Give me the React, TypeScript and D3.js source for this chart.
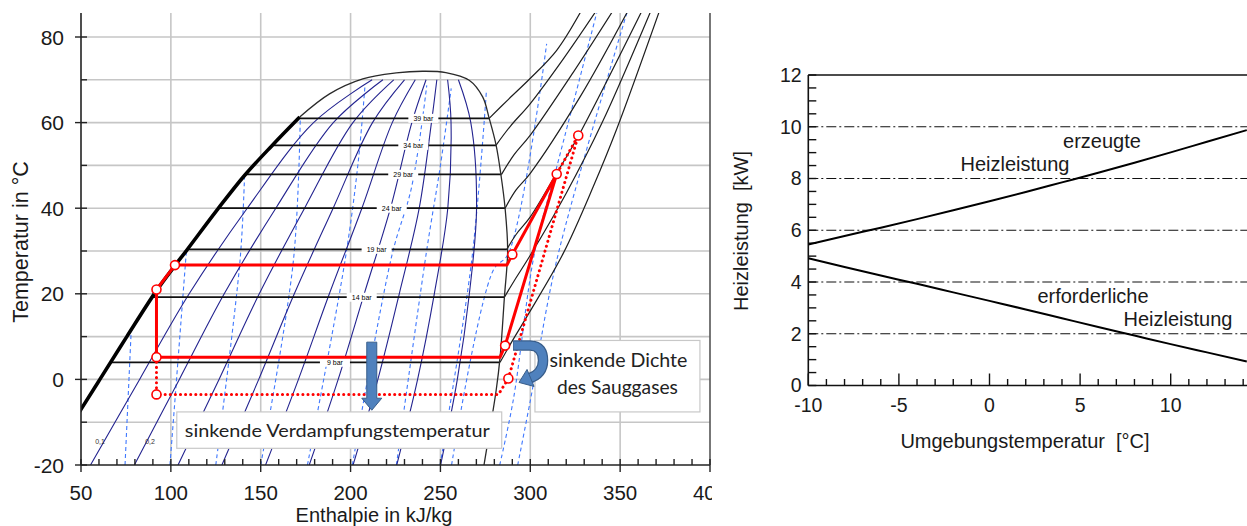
import React from 'react';
import * as d3 from 'd3';

// ================= LEFT CHART (T-h diagram) =================
const hTicks = [50, 100, 150, 200, 250, 300, 350, 400];
const tTicks = [-20, 0, 20, 40, 60, 80];
const tGrid = [-10, 0, 10, 20, 30, 40, 50, 60, 70, 80];
const hGrid = [100, 150, 200, 250, 300, 350];

// saturated liquid line (thick part)
const liqH = [31, 45.5, 50, 60.5, 75.5, 92.1, 102.3, 108.7, 126.3, 141.1, 156, 171.7];
const liqT = [-20, -10, -7, 0, 10, 20.8, 26.6, 30.1, 39.9, 47.7, 54.5, 61.3];
// dome top + saturated vapour line (thin part)
const domeH = [171.7, 188.3, 206.8, 225.4, 240, 253, 266, 273.5, 277.2, 281, 283.7, 286, 287.4, 285.6, 283.2, 281, 274.4, 273.5];
const domeT = [61.3, 66.7, 70.2, 71.6, 72, 71.7, 69.9, 66, 60.9, 54.7, 47.7, 39.9, 30.1, 19.2, 5.2, -2.6, -19.6, -22];

// lines of constant vapour quality (navy)
const qualT = [-20, 0, 20, 40, 60, 70];
const qual01 = [55.3, 82.6, 110.2, 142.5, 179.4, 212];
const qual02 = [79.7, 104.7, 129.7, 158.4, 190.4, 218];
const qual03 = [104, 126.8, 149.2, 174.4, 201.3, 224];
const qual04 = [128.4, 148.9, 168.7, 190.3, 212.2, 230];
const qual05 = [152.7, 171, 188.2, 206.3, 223.2, 236];
const qual06 = [177, 193.1, 207.6, 222.2, 234.1, 242];
const qual07 = [201.4, 215.2, 227.1, 238.2, 245, 248];
const qual08 = [225.7, 237.3, 246.6, 254.1, 255.9, 254];
const qual09 = [250.1, 259.4, 266.1, 270.1, 266.9, 260];
const qualLabels = ['0,1', '0,2'];
const qualLabelH = [60.6, 88.4];
const qualLabelT = -14.6;

// isobars inside the dome
const pLabels = ['39 bar', '34 bar', '29 bar', '24 bar', '19 bar', '14 bar', '9 bar'];
const pSatT = [61, 54.7, 47.9, 40, 30.4, 19.2, 4];
const pLiqH = [171.9, 156.3, 141.3, 126.4, 109, 90, 67];
const pVapH = [277.1, 280.9, 284, 286, 287, 285.6, 283.2];
const pLabelH = [240.5, 234.9, 229.3, 222.9, 214.5, 206.2, 191.3];

// isobars in the superheated region
const sh39H = [277.1, 288, 299.9, 314.7, 328.2];
const sh39T = [61, 65.5, 70.3, 76.9, 86];
const sh34H = [280.9, 289, 299.9, 318.4, 336.5];
const sh34T = [54.7, 59.2, 64.4, 74.9, 86];
const sh29H = [284, 291, 299.9, 324, 345.8];
const sh29T = [47.9, 52.5, 57, 71.8, 86];
const sh24H = [286, 292, 299.9, 327.7, 354.2];
const sh24T = [40, 44.2, 48.1, 66, 86];
const sh19H = [287, 292, 299.9, 314.7, 326.7, 362];
const sh19T = [30.4, 33.8, 37.9, 48.2, 56.8, 86];
const sh14H = [285.6, 291, 300, 320, 340, 367];
const sh14T = [19.2, 23, 29, 43.5, 60, 86];
const sh9H = [283.2, 290, 300, 318.4, 335, 348.1, 371.8];
const sh9T = [4, 9, 16, 29.5, 45, 58.5, 86];

// blue dashed lines (inside dome)
const dsh1H = [74.5, 78];
const dsh1T = [-20, 12];
const dsh2H = [99.5, 108.7];
const dsh2T = [-20, 30.3];
const dsh3H = [125, 138.5, 141];
const dsh3T = [-20, 27.8, 47.5];
const dsh4H = [150, 168.2, 172];
const dsh4T = [-20, 27.8, 61];
const dsh5H = [176, 197, 204.3, 208];
const dsh5T = [-20, 28, 51, 68.5];
const dsh6H = [201, 223, 234, 242.4];
const dsh6T = [-20, 29, 45, 68.7];
const dsh7H = [225.5, 242.3, 250, 256];
const dsh7T = [-20, 30, 50, 68];
const dsh8H = [249.8, 267.4, 275.6];
const dsh8T = [-20, 27.8, 67.5];
// blue dashed lines crossing into the superheated region
const dsh9H = [256.2, 279.4, 287.8, 309.1];
const dsh9T = [-20, 25.5, 29.4, 78.4];
const dsh10H = [283, 290.5, 302.6, 314.7, 337.2];
const dsh10T = [-20, -4.9, 30.1, 49.6, 86];
const dsh11H = [293, 300, 314.7, 354];
const dsh11T = [-20, -5, 27.8, 86];

// heat-pump cycles
const cycSolidH = [286, 314.7, 290, 287, 102.3, 92, 92, 283.2, 286];
const cycSolidT = [7.9, 48, 29.2, 26.7, 26.7, 21, 5.2, 5.2, 7.9];
const cycDotH = [92, 92, 282.3, 287.8, 326.7, 314.7];
const cycDotT = [5.2, -3.5, -3.5, 0.2, 57, 48];
const markH = [92, 102.3, 92, 92, 290, 314.7, 286, 287.8, 326.7];
const markT = [21, 26.7, 5.2, -3.5, 29.2, 48, 7.9, 0.2, 57];

// ================= RIGHT CHART =================
const ambT = [-10, -8, -6, -4, -2, 0, 2, 4, 6, 8, 10, 12, 14.2];
const erzeugt = [5.45, 5.78, 6.1, 6.43, 6.77, 7.12, 7.48, 7.85, 8.22, 8.61, 9.01, 9.42, 9.87];
const erforderlich = [4.92, 4.58, 4.25, 3.93, 3.6, 3.27, 2.94, 2.6, 2.26, 1.93, 1.6, 1.28, 0.93];
const rxTicks = [-10, -5, 0, 5, 10];
const ryTicks = [0, 2, 4, 6, 8, 10, 12];
const ryGrid = [2, 4, 6, 8, 10];

const NAVY = '#23238f';
const LBLUE = '#3f78ff';
const RED = '#ff0000';
const ARROW = '#4f81bd';
const ARROW_DK = '#385d8a';

export default function App() {
  const xL = d3.scaleLinear().domain([50, 400]).range([81, 710]);
  const yL = d3.scaleLinear().domain([-20, 80]).range([465, 37]);
  const topY = 13;

  const mk = (H: number[], T: number[], curve: any = d3.curveCatmullRom.alpha(0.5)) =>
    d3.line().curve(curve)(H.map((h, i) => [xL(h), yL(T[i])] as [number, number])) || '';
  const lin = (H: number[], T: number[]) => mk(H, T, d3.curveLinear);

  const quals = [qual01, qual02, qual03, qual04, qual05, qual06, qual07, qual08, qual09];
  const dashes: [number[], number[]][] = [
    [dsh1H, dsh1T], [dsh2H, dsh2T], [dsh3H, dsh3T], [dsh4H, dsh4T], [dsh5H, dsh5T],
    [dsh6H, dsh6T], [dsh7H, dsh7T], [dsh8H, dsh8T], [dsh9H, dsh9T], [dsh10H, dsh10T], [dsh11H, dsh11T],
  ];
  const supers: [number[], number[]][] = [
    [sh39H, sh39T], [sh34H, sh34T], [sh29H, sh29T], [sh24H, sh24T], [sh19H, sh19T], [sh14H, sh14T], [sh9H, sh9T],
  ];

  const hMinor = d3.range(50, 401, 10);
  const tMinor = d3.range(-20, 81, 10);

  // right chart scales
  const xR = d3.scaleLinear().domain([-10, 10]).range([808.3, 1170.7]);
  const yR = d3.scaleLinear().domain([0, 12]).range([385.5, 75]);
  const lineR = (Y: number[]) =>
    d3.line().curve(d3.curveMonotoneX)(ambT.map((t, i) => [xR(t), yR(Y[i])] as [number, number])) || '';
  const rxMinor = d3.range(-10, 15, 1);
  const ryMinor = d3.range(0, 12.01, 0.5);
  const rLeft = xR(-10);
  const rRight = 1247;

  // annotation anchors (data units of left chart)
  const box1 = { x0: xL(103.3), x1: xL(284.1), y0: yL(-7.6), y1: yL(-16.1) };
  const box2 = { x0: xL(302.6), x1: xL(394.4), y0: yL(9.1), y1: yL(-7.6) };
  const ax = xL(211.8), aTop = yL(8.7), aHead = yL(-4.4), aTip = yL(-7.2);
  const ux = xL(290.4), uy = yL(9.1);

  const sansCal = "Lato, 'Open Sans', sans-serif";

  return (
    <svg width={1247} height={526} style={{ position: 'absolute', left: 0, top: 0, background: '#fff' }}
      fontFamily="'Liberation Sans', Arial, sans-serif">
      <defs>
        <clipPath id="plotL"><rect x={81} y={topY} width={629} height={465 - topY} /></clipPath>
        <clipPath id="panelL"><rect x={0} y={0} width={712} height={526} /></clipPath>
        <clipPath id="plotR"><rect x={rLeft} y={70} width={rRight - rLeft} height={320} /></clipPath>
      </defs>

      {/* ---------------- LEFT PANEL ---------------- */}
      <g clipPath="url(#panelL)">
        {/* grid */}
        {tGrid.map((t) => (
          <line key={'tg' + t} x1={81} x2={710} y1={yL(t)} y2={yL(t)} stroke="#c6c6c6" strokeWidth={1.6} />
        ))}
        {hGrid.map((h) => (
          <line key={'hg' + h} x1={xL(h)} x2={xL(h)} y1={topY} y2={465} stroke="#c6c6c6" strokeWidth={1.6} />
        ))}

        <g clipPath="url(#plotL)">
          {/* blue dashed lines */}
          {dashes.map(([H, T], i) => (
            <path key={'d' + i} d={mk(H, T)} fill="none" stroke={LBLUE} strokeWidth={1.1} strokeDasharray="4 3" />
          ))}
          {/* quality lines */}
          {quals.map((Q, i) => (
            <path key={'q' + i} d={mk(Q, qualT)} fill="none" stroke={NAVY} strokeWidth={1.1} />
          ))}
          {/* superheated isobars */}
          {supers.map(([H, T], i) => (
            <path key={'s' + i} d={mk(H, T)} fill="none" stroke="#1e1e1e" strokeWidth={1.2} />
          ))}
          {/* isobars in two-phase region */}
          {pLabels.map((lab, i) => (
            <line key={'p' + i} x1={xL(pLiqH[i])} x2={xL(pVapH[i])} y1={yL(pSatT[i])} y2={yL(pSatT[i])}
              stroke="#111" strokeWidth={1.8} />
          ))}
          {/* saturation lines */}
          <path d={mk(domeH, domeT)} fill="none" stroke="#2a2a2a" strokeWidth={1.3} />
          <path d={mk(liqH, liqT)} fill="none" stroke="#000" strokeWidth={3.6} />
          {/* isobar labels */}
          {pLabels.map((lab, i) => (
            <g key={'pl' + i}>
              <rect x={xL(pLabelH[i]) - 15} y={yL(pSatT[i]) - 4.5} width={30} height={9} fill="#fff" />
              <text x={xL(pLabelH[i])} y={yL(pSatT[i]) + 2.5} fontSize={7} textAnchor="middle" fill="#000">{lab}</text>
            </g>
          ))}
          {qualLabels.map((lab, i) => (
            <text key={'ql' + i} x={xL(qualLabelH[i])} y={yL(qualLabelT) + 2} fontSize={7} textAnchor="middle"
              fill="#333">{lab}</text>
          ))}

          {/* cycles */}
          <path d={lin(cycDotH, cycDotT)} fill="none" stroke={RED} strokeWidth={3} strokeDasharray="0.1 5"
            strokeLinecap="round" />
          <path d={lin(cycSolidH, cycSolidT)} fill="none" stroke={RED} strokeWidth={3} strokeLinejoin="round" />
          {markH.map((h, i) => (
            <circle key={'m' + i} cx={xL(h)} cy={yL(markT[i])} r={4.5} fill="#fff" stroke={RED} strokeWidth={1.6} />
          ))}
        </g>

        {/* axes */}
        <line x1={81} x2={81} y1={topY} y2={465} stroke="#222" strokeWidth={1.6} />
        <line x1={81} x2={710} y1={465} y2={465} stroke="#222" strokeWidth={1.6} />
        <line x1={710} x2={710} y1={topY} y2={465} stroke="#555" strokeWidth={1.6} />
        {tMinor.map((t) => (
          <line key={'tt' + t} x1={tTicks.includes(t) ? 75 : 81} x2={87} y1={yL(t)} y2={yL(t)} stroke="#222" strokeWidth={1.4} />
        ))}
        {hMinor.map((h) => (
          <line key={'ht' + h} x1={xL(h)} x2={xL(h)} y1={459} y2={hTicks.includes(h) ? 472 : 465} stroke="#222" strokeWidth={1.4} />
        ))}
        {tTicks.map((t) => (
          <text key={'tl' + t} x={64} y={yL(t) + 7.5} fontSize={21} textAnchor="end" fill="#1a1a1a">{t}</text>
        ))}
        {hTicks.map((h) => (
          <text key={'hl' + h} x={xL(h)} y={500} fontSize={20.5} textAnchor="middle" fill="#1a1a1a">{h}</text>
        ))}
        <text x={374} y={522} fontSize={20} textAnchor="middle" fill="#1a1a1a">Enthalpie in kJ/kg</text>
        <text transform={`translate(28,242) rotate(-90)`} fontSize={21.5} textAnchor="middle" fill="#1a1a1a">
          Temperatur in °C
        </text>

        {/* annotation: sinkende Verdampfungstemperatur */}
        <rect x={box1.x0} y={box1.y0} width={box1.x1 - box1.x0} height={box1.y1 - box1.y0} fill="#fff"
          stroke="#c8c8c8" strokeWidth={1.2} />
        <text x={box1.x0 + 8} y={box1.y0 + 25} fontSize={18} fontFamily={sansCal} fill="#222"
          textLength={305} lengthAdjust="spacingAndGlyphs">sinkende Verdampfungstemperatur</text>

        {/* down arrow */}
        <polygon
          points={[
            [ax - 5, aTop], [ax + 5, aTop], [ax + 5, aHead], [ax + 10, aHead], [ax, aTip], [ax - 10, aHead], [ax - 5, aHead],
          ].map((p) => p.join(',')).join(' ')}
          fill={ARROW} stroke={ARROW_DK} strokeWidth={1} />

        {/* annotation: sinkende Dichte des Sauggases */}
        <rect x={box2.x0} y={box2.y0} width={box2.x1 - box2.x0} height={box2.y1 - box2.y0} fill="#fff"
          stroke="#c8c8c8" strokeWidth={1.2} />
        <text x={(box2.x0 + box2.x1) / 2 + 1} y={box2.y0 + 26.5} fontSize={19} fontFamily={sansCal} fill="#222"
          textAnchor="middle" textLength={138} lengthAdjust="spacingAndGlyphs">sinkende Dichte</text>
        <text x={(box2.x0 + box2.x1) / 2} y={box2.y0 + 54} fontSize={19} fontFamily={sansCal} fill="#222"
          textAnchor="middle" textLength={121} lengthAdjust="spacingAndGlyphs">des Sauggases</text>

        {/* U-turn arrow */}
        <g transform={`translate(${ux},${uy})`}>
          <path d="M0,5 L17,5 C27,5 30,12 30,20 C30,29 25,35 16,38" fill="none" stroke={ARROW_DK} strokeWidth={10.5} />
          <path d="M0.5,5 L17,5 C27,5 30,12 30,20 C30,29 25,35 16,38" fill="none" stroke={ARROW} strokeWidth={8} />
          <polygon points="6,42 14,29 21,46" fill={ARROW} stroke={ARROW_DK} strokeWidth={1} />
        </g>
      </g>

      {/* ---------------- RIGHT PANEL ---------------- */}
      <g>
        {ryGrid.map((v) => (
          <line key={'rg' + v} x1={rLeft} x2={rRight} y1={yR(v)} y2={yR(v)} stroke="#111" strokeWidth={1.2}
            strokeDasharray="10 3 2 3" />
        ))}
        <line x1={rLeft} x2={rRight} y1={yR(12)} y2={yR(12)} stroke="#111" strokeWidth={1.5} />
        <line x1={rLeft} x2={rRight} y1={yR(0)} y2={yR(0)} stroke="#111" strokeWidth={1.6} />
        <line x1={rLeft} x2={rLeft} y1={yR(12)} y2={yR(0)} stroke="#111" strokeWidth={1.6} />
        {ryMinor.map((v) => (
          <line key={'ry' + v} x1={rLeft} x2={rLeft + 8} y1={yR(v)} y2={yR(v)} stroke="#111" strokeWidth={1.4} />
        ))}
        {rxMinor.map((v) => (
          <line key={'rx' + v} x1={xR(v)} x2={xR(v)} y1={yR(0)} y2={yR(0) - (v % 5 === 0 ? 12 : 6.5)} stroke="#111"
            strokeWidth={1.4} />
        ))}
        {ryTicks.map((v) => (
          <text key={'ryl' + v} x={801.7} y={yR(v) + 6.8} fontSize={19.5} textAnchor="end" fill="#1a1a1a">{v}</text>
        ))}
        {rxTicks.map((v) => (
          <text key={'rxl' + v} x={xR(v)} y={412} fontSize={19.5} textAnchor="middle" fill="#1a1a1a">{v}</text>
        ))}
        <g clipPath="url(#plotR)">
          <path d={lineR(erzeugt)} fill="none" stroke="#000" strokeWidth={2} />
          <path d={lineR(erforderlich)} fill="none" stroke="#000" strokeWidth={2} />
        </g>
        <text x={1102} y={148} fontSize={20} textAnchor="middle" fill="#1a1a1a">erzeugte</text>
        <text x={1015} y={171} fontSize={20} textAnchor="middle" fill="#1a1a1a">Heizleistung</text>
        <text x={1093} y={303} fontSize={20} textAnchor="middle" fill="#1a1a1a">erforderliche</text>
        <text x={1178} y={326} fontSize={20} textAnchor="middle" fill="#1a1a1a">Heizleistung</text>
        <text x={1025} y={448} fontSize={20} textAnchor="middle" fill="#1a1a1a" style={{ whiteSpace: 'pre' }}>
          {'Umgebungstemperatur  [°C]'}
        </text>
        <text transform="translate(748,231) rotate(-90)" fontSize={20} textAnchor="middle" fill="#1a1a1a"
          style={{ whiteSpace: 'pre' }}>{'Heizleistung  [kW]'}</text>
      </g>
    </svg>
  );
}
